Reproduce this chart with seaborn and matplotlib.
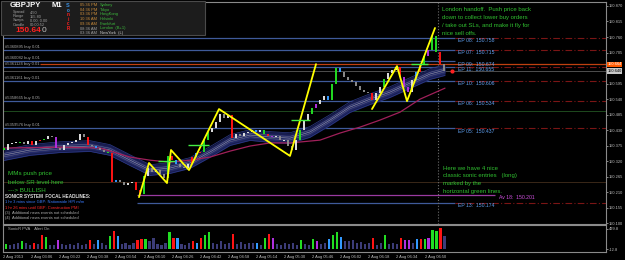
import numpy as np
import matplotlib
matplotlib.use("Agg")
import matplotlib.pyplot as plt
from matplotlib.patches import Rectangle
import pandas as pd
import seaborn as sns

# ---- values (bar index = one candle slot) ----
first_open = 150.366
closes = [150.360, 150.381, 150.385, 150.388, 150.388, 150.381, 150.392, 150.378, 150.392, 150.395,
          150.399, 150.409, 150.406, 150.367, 150.360, 150.378, 150.385, 150.388, 150.395, 150.416,
          150.406, 150.378, 150.374, 150.367, 150.360, 150.353, 150.349, 150.247, 150.254, 150.247,
          150.236, 150.243, 150.247, 150.218, 150.204, 150.268, 150.296, 150.282, 150.289, 150.275,
          150.261, 150.339, 150.324, 150.310, 150.300, 150.296, 150.310, 150.335, 150.349, 150.353,
          150.395, 150.424, 150.438, 150.459, 150.487, 150.473, 150.484, 150.402, 150.416, 150.409,
          150.420, 150.424, 150.431, 150.424, 150.431, 150.416, 150.409, 150.406, 150.409, 150.395,
          150.395, 150.374, 150.360, 150.395, 150.431, 150.463, 150.487, 150.509, 150.523, 150.537,
          150.551, 150.537, 150.594, 150.650, 150.636, 150.618, 150.608, 150.601, 150.586, 150.572,
          150.565, 150.562, 150.537, 150.562, 150.583, 150.611, 150.632, 150.643, 150.654, 150.618,
          150.583, 150.565, 150.608, 150.636, 150.664, 150.693, 150.714, 150.764, 150.707, 150.664, 150.640]
bar_codes = list("gwwwgwwrwr" "gwwpwwwwww" "wrwbwwgrbw" "wwwrrgwwww" "wgrbwwwrbr"
                 "ggwwwwwrww" "wwwbwgrpww" "wwwwgwwgpw" "wbggbwwwww" "wwrwwgwwwr" "ppwbrgpggrw")
volumes = [110, 80, 120, 150, 190, 130, 100, 150, 120, 340,
           300, 100, 80, 230, 110, 90, 120, 100, 140, 90,
           110, 210, 120, 230, 150, 100, 330, 460, 330, 120,
           140, 100, 130, 230, 250, 250, 180, 260, 120, 100,
           140, 430, 260, 260, 120, 100, 140, 190, 150, 265,
           340, 420, 150, 120, 180, 110, 140, 360, 120, 160,
           110, 130, 150, 140, 100, 265, 380, 265, 120, 90,
           150, 110, 130, 100, 227, 120, 100, 250, 180, 120,
           150, 250, 340, 420, 300, 200, 180, 230, 140, 160,
           120, 150, 280, 100, 130, 340, 120, 150, 110, 265,
           230, 230, 150, 250, 250, 250, 280, 480, 440, 530, 320]

dragon_pos = [0, 6.5, 14, 21.5, 26.5, 31.5, 36.5, 41.5, 46.5, 51.5, 56.5,
              61.5, 66.5, 71.5, 76.5, 81.5, 86.5, 91.5, 96.5, 101.5, 106.5, 110.25]
dragon_mid = [150.342, 150.360, 150.370, 150.374, 150.360, 150.324, 150.289, 150.296, 150.314, 150.353, 150.395,
              150.413, 150.406, 150.402, 150.424, 150.466, 150.512, 150.540, 150.565, 150.597, 150.629, 150.643]
slow_pos = [0, 14, 24, 31.5, 36.5, 41.5, 46.5, 51.5, 56.5, 61.5, 66.5, 71.5, 79, 84, 89, 94, 99, 104, 110.25]
slow_ma = [150.367, 150.370, 150.367, 150.335, 150.324, 150.317, 150.324, 150.335, 150.356, 150.374,
           150.385, 150.385, 150.395, 150.420, 150.441, 150.466, 150.494, 150.540, 150.579]

zz1_pos = [33.75, 36.25, 40.75, 41.75, 46.25, 53.75, 71.5, 78.0]
zz1_px = [150.193, 150.314, 150.243, 150.360, 150.289, 150.505, 150.339, 150.664]
zz2_pos = [92.0, 98.25, 100.75, 107.75]
zz2_px = [150.505, 150.657, 150.533, 150.792]

entry_from = [38.5, 46.0, 71.75, 101.75]
entry_to = [42.75, 51.25, 76.5, 106.0]
entry_px = [150.321, 150.378, 150.466, 150.664]

ep_names = ["EP 08", "EP 07", "EP 09", "EP 11", "EP 10", "EP 06", "EP 05", "EP 13"]
ep_levels = [150.758, 150.715, 150.674, 150.655, 150.606, 150.534, 150.437, 150.174]
tickets = ["", "#5360895 buy 0.01", "#5360082 buy 0.01", "#5361124 buy 0.01",
           "#5361161 buy 0.01", "#5358665 buy 0.05", "#5359576 buy 0.01", ""]
av_level = 150.201
bid = 150.640
orange_level = 150.664
green_level = 150.498
brown_level = 150.245

price_ticks = [150.870, 150.815, 150.760, 150.705, 150.595, 150.540, 150.485, 150.430,
               150.375, 150.320, 150.265, 150.210, 150.155, 150.100]
vol_ticks = [499.8, -12.8]
time_labels = ["2 Aug 2013", "2 Aug 03:06", "2 Aug 03:22", "2 Aug 03:38", "2 Aug 03:54", "2 Aug 04:10",
               "2 Aug 04:26", "2 Aug 04:42", "2 Aug 04:58", "2 Aug 05:14", "2 Aug 05:30", "2 Aug 05:46",
               "2 Aug 06:02", "2 Aug 06:18", "2 Aug 06:34", "2 Aug 06:50"]

sessions = ["Sydney", "Tokyo", "HongKong", "Helsinki", "Frankfurt", "London  (B+1)", "NewYork  (L)"]
session_times = ["05:36 PM", "04:36 PM", "03:36 PM", "10:36 AM", "09:36 AM", "08:36 AM", "03:36 AM"]
stat_names = ["Spread", "Range", "Swaps", "Candle"]
stat_values = ["4.50", "155.80", "0.00, 0.00", "00:00:52"]

london_note = ["London handoff.  Push price back", "down to collect lower buy orders",
               "/ take out SLs, and make it fly for", "nice sell offs."]
entries_note = ["Here we have 4 nice", "classic sonic entries   (long)", "marked by the",
                "horizontal green lines."]
mm_note = ["MMs push price", "below SR level here", "---> BULLISH"]
headlines = ["SONICR SYSTEM  FOCAL HEADLINES:", "1 hr 3 mins since GBP: Nationwide HPI m/m",
             "1 hr 26 mins until GBP: Construction PMI", "(3)  Additional news events not scheduled",
             "(4)  Additional news events not scheduled"]
headline_colors = ["#e0e0e0", "#3a7cff", "#ff2a2a", "#b0b0b0", "#b0b0b0"]

# ---- style ----
sns.set_theme(style="dark", rc={"axes.facecolor": "black", "figure.facecolor": "black"})
plt.rcParams["font.family"] = ["Liberation Sans", "DejaVu Sans"]

code_colors = {"g": "#22dd22", "r": "#ff1414", "b": "#3399ff", "p": "#b030e0"}
W, H = 625, 260
TICK_FS = 2.9


def rect(x0, y0, x1, y1):
    return [x0 / W, 1 - y1 / H, (x1 - x0) / W, (y1 - y0) / H]


fig = plt.figure(figsize=(6.25, 2.6), dpi=100, facecolor="black")
ax = fig.add_axes(rect(3, 2, 606, 224))
vax = fig.add_axes(rect(3, 225, 606, 252))
XL = (-0.25, 150.5)
ax.set_xlim(*XL)
ax.set_ylim(150.098, 150.884)
vax.set_xlim(*XL)
vax.set_ylim(-89.6, 602)

df = pd.DataFrame({"bar": np.arange(len(closes)), "close": closes,
                   "open": [first_open] + closes[:-1], "code": bar_codes, "volume": volumes})

# dragon ribbon + slow ma
mid = np.array(dragon_mid)
ax.fill_between(dragon_pos, mid - 0.019, mid + 0.019, color="#181d50", lw=0, zorder=2)
ax.fill_between(dragon_pos, mid - 0.011, mid + 0.011, color="#232a68", lw=0, zorder=2)
for off in (-0.019, 0.019):
    ax.plot(dragon_pos, mid + off, color="#2c3a88", lw=0.5, zorder=2)
for off in (-0.006, 0.006):
    ax.plot(dragon_pos, mid + off, color="#6a6a88", lw=0.35, zorder=3)
sns.lineplot(x=dragon_pos, y=dragon_mid, ax=ax, color="#9a9aaa", lw=0.4, zorder=3)
sns.lineplot(x=slow_pos, y=slow_ma, ax=ax, color="#a0205a", lw=0.9, zorder=3)

# horizontal levels
ax.hlines(green_level, *XL, color="#1e4a1e", lw=0.7, zorder=1)
ax.hlines(brown_level, *XL, color="#3a2818", lw=0.7, zorder=1)
ax.hlines(bid, *XL, color="#5a5a5a", lw=0.6, zorder=1)
ax.hlines(orange_level, 9, XL[1], color="#c04010", lw=0.9, zorder=1)
for name, lvl, tk in zip(ep_names, ep_levels, tickets):
    start = 33.25 if name == "EP 13" else XL[0]
    ax.hlines(lvl, start, 112.75, color="#3f5a9a", lw=0.9, zorder=1)
    if name != "EP 09":
        ax.hlines(lvl, 112.75, XL[1], color="#7a1515", lw=0.8, linestyles=(0, (6, 2, 1, 2)), zorder=1)
    ax.text(113.4, lvl - 0.002, f"{name}:  {lvl:.3f}", color="#5fa0f0", fontsize=3.7, va="top", zorder=6)
    if tk:
        ax.text(0.3, lvl + 0.003, tk, color="#a8a8a8", fontsize=3.0, va="bottom", zorder=6)
ax.hlines(av_level, 33.25, 122.75, color="#9a3aa0", lw=0.9, zorder=1)
ax.text(123.8, av_level - 0.002, f"Av 18:  {av_level:.3f}", color="#d050e0", fontsize=3.7, va="top")

# candles
up = df["close"] >= df["open"]
base = np.where(up, "#e0e0e0", "#8c8c8c")
cols = [code_colors.get(c, b) for c, b in zip(df["code"], base)]
lo = np.minimum(df["open"], df["close"])
hi = np.maximum(df["open"], df["close"])
small = (hi - lo) < 0.003
midp = (hi + lo) / 2
lo = np.where(small, midp - 0.0015, lo)
hi = np.where(small, midp + 0.0015, hi)
ax.vlines(df["bar"], lo, hi, colors=cols, lw=1.4, zorder=4)

# zigzags and entries
sns.lineplot(x=zz1_pos, y=zz1_px, ax=ax, color="#ffff00", lw=1.3, sort=False, estimator=None, zorder=5)
sns.lineplot(x=zz2_pos, y=zz2_px, ax=ax, color="#ffff00", lw=1.3, sort=False, estimator=None, zorder=5)
ax.hlines(entry_px, entry_from, entry_to, color="#44ee44", lw=1.0, zorder=5)

ax.axvline(108.5, color="#707070", ls=":", lw=0.8, zorder=1)
ax.plot([112], [bid], "o", color="#ff2020", ms=2, zorder=6)

# price axis
ax.yaxis.tick_right()
ax.set_yticks(price_ticks)
ax.set_yticklabels([f"{v:.3f}" for v in price_ticks])
ax.set_xticks([])
ax.tick_params(axis="y", labelsize=TICK_FS, colors="#c0c0c0", length=1.5, pad=0.8, width=0.5)
ytr = ax.get_yaxis_transform()
ax.text(1.002, orange_level, f"{orange_level:.3f}", transform=ytr, fontsize=TICK_FS, color="white", va="center",
        ha="left", clip_on=False, bbox=dict(boxstyle="square,pad=0.15", fc="#ff5a00", ec="none"))
ax.text(1.002, bid, f"{bid:.3f}", transform=ytr, fontsize=TICK_FS, color="black", va="center",
        ha="left", clip_on=False, bbox=dict(boxstyle="square,pad=0.15", fc="#c8c8c8", ec="none"))

# volume panel
vcols = [code_colors.get(c, "#3c3c78") for c in df["code"]]
vax.bar(df["bar"], df["volume"], width=0.55, color=vcols, lw=0)
vax.yaxis.tick_right()
vax.set_yticks(vol_ticks)
vax.set_yticklabels([f"{v:.1f}" for v in vol_ticks])
vax.set_xticks([-0.75 + 7.05 * k for k in range(len(time_labels))])
vax.set_xticklabels(time_labels, ha="left")
vax.tick_params(axis="both", labelsize=TICK_FS, colors="#c0c0c0", length=1.5, pad=0.8, width=0.5)
vax.text(0.5, 560, "SonicR PVA    Alert On", color="#b0b0b0", fontsize=3.0, va="top")

for a in (ax, vax):
    a.grid(False)
    for s in a.spines.values():
        s.set_color("#8a8a8a")
        s.set_linewidth(0.8)

# overlay in pixel coordinates for panel text
ov = fig.add_axes([0, 0, 1, 1], zorder=10)
ov.set_xlim(0, W)
ov.set_ylim(H, 0)
ov.axis("off")
ov.patch.set_alpha(0)
ov.add_patch(Rectangle((1, 0.5), 204, 34, fc="#1c1c1c", ec="#4a4a4a", lw=0.8))
ov.text(10, 5.5, "GBPJPY", color="white", fontsize=5.6, fontweight="bold", va="center")
ov.text(52, 5.5, "M1", color="white", fontsize=5.6, fontweight="bold", va="center")
for k, (n, v) in enumerate(zip(stat_names, stat_values)):
    ov.text(13, 12.5 + 4 * k, n, color="#a0a0a0", fontsize=2.8, va="center")
    ov.text(30, 12.5 + 4 * k, v, color="#a0a0a0", fontsize=2.8, va="center")
ov.text(15, 30.5, "150.64", color="#ff2020", fontsize=6.0, fontweight="bold", va="center")
ov.text(41.5, 30.5, "0", color="#c0c0c0", fontsize=6.0, va="center")
for k, (ch, c) in enumerate(zip("SonicR", ["#3a8fe0"] * 2 + ["#ff2020"] * 4)):
    ov.text(68, 5.7 + 4.5 * k, ch, color=c, fontsize=4.0 if k == 0 else 3.3, fontweight="bold",
            va="center", ha="center")
for k, (t, s) in enumerate(zip(session_times, sessions)):
    tc = "#c88a3a" if k < 5 else "#a0a0a0"
    sc = "#3cb83c" if k < 6 else "#c8c8c8"
    ov.text(80, 5 + 4.7 * k, t, color=tc, fontsize=2.9, va="center")
    ov.text(100, 5 + 4.7 * k, s, color=sc, fontsize=2.9, va="center")

for k, line in enumerate(london_note):
    ov.text(442, 9 + 8.3 * k, line, color="#30c030", fontsize=4.3, va="center")
for k, line in enumerate(entries_note):
    ov.text(443, 168 + 8 * k, line, color="#30c030", fontsize=4.3, va="center")
for k, line in enumerate(mm_note):
    ov.text(8, 174 + 8 * k, line, color="#30c030", fontsize=4.5, va="center")
for k, (line, c) in enumerate(zip(headlines, headline_colors)):
    ov.text(5, 197 + 5.3 * k, line, color=c, fontsize=3.3 if k == 0 else 2.9,
            fontweight="bold" if k == 0 else "normal", va="center")

fig.savefig("out.png", dpi=100, facecolor="black")
